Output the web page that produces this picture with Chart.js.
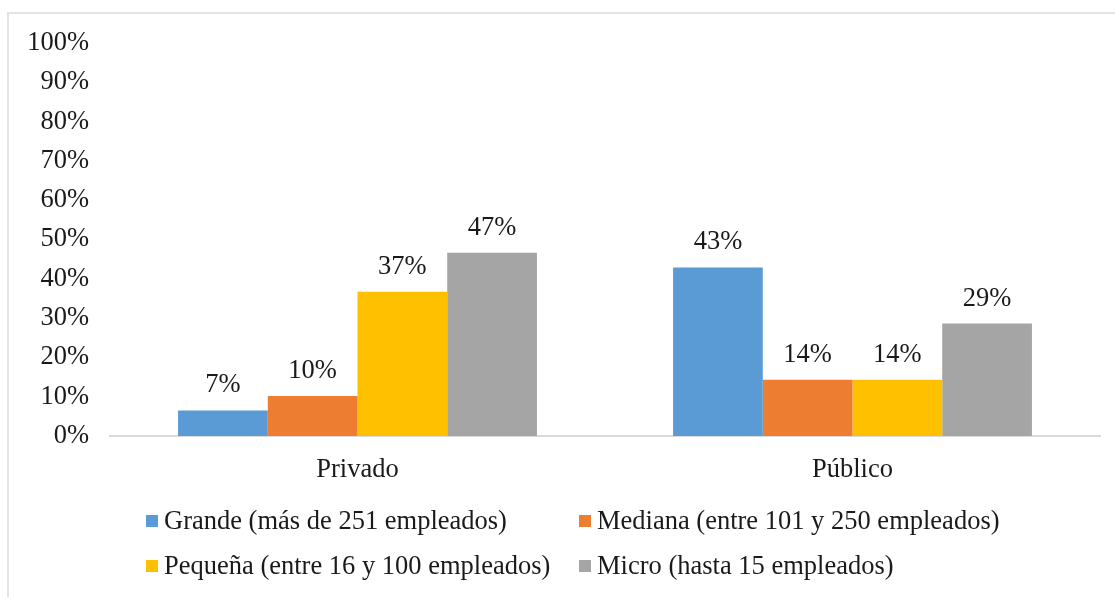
<!DOCTYPE html>
<html>
<head>
<meta charset="utf-8">
<script src="https://cdn.jsdelivr.net/npm/chart.js@4/dist/chart.umd.min.js"></script>
<style>
    html, body { margin: 0; padding: 0; background: #fff; overflow: hidden; }
    #wrap { position: absolute; left: 0; top: 0; width: 1115px; height: 597px; }
    #frame { position: absolute; left: 7px; top: 12px; width: 1130px; height: 610px;
             border: 2px solid #e3e3e3; box-sizing: border-box; pointer-events: none; }
</style>
</head>
<body>
<div id="wrap"><canvas id="sizeChart"></canvas></div>
<div id="frame"></div>
<script>
const categories = ['Privado', 'Público'];
const seriesNames = [
    'Grande (más de 251 empleados)',
    'Mediana (entre 101 y 250 empleados)',
    'Pequeña (entre 16 y 100 empleados)',
    'Micro (hasta 15 empleados)'
];
const grande = [6.5, 42.9];
const mediana = [10.2, 14.3];
const pequena = [36.7, 14.3];
const micro = [46.6, 28.6];
const colors = ['#5B9BD5', '#ED7D31', '#FFC000', '#A5A5A5'];

const FONT = '"Liberation Serif", "Times New Roman", serif';
const FONT_SIZE = 26.5;
const TEXT = '#1a1a1a';

// value labels above bars
const barLabels = {
    id: 'barLabels',
    afterDatasetsDraw(chart) {
        const ctx = chart.ctx;
        ctx.save();
        ctx.font = FONT_SIZE + 'px ' + FONT;
        ctx.fillStyle = TEXT;
        ctx.textAlign = 'center';
        ctx.textBaseline = 'alphabetic';
        chart.data.datasets.forEach((ds, i) => {
            chart.getDatasetMeta(i).data.forEach((bar, j) => {
                ctx.fillText(Math.round(ds.data[j]) + '%', bar.x, bar.y - 18);
            });
        });
        ctx.restore();
    }
};

// Excel-style legend: two rows, columns aligned left
const gridLegend = {
    id: 'gridLegend',
    afterDraw(chart) {
        const ctx = chart.ctx;
        const cols = [146, 579];
        const rows = [521, 566];
        ctx.save();
        ctx.font = FONT_SIZE + 'px ' + FONT;
        ctx.textBaseline = 'middle';
        ctx.textAlign = 'left';
        chart.data.datasets.forEach((ds, i) => {
            const x = cols[i % 2];
            const y = rows[Math.floor(i / 2)];
            ctx.fillStyle = ds.backgroundColor;
            ctx.fillRect(x, y - 6, 12, 12);
            ctx.fillStyle = TEXT;
            ctx.fillText(ds.label, x + 18, y + 1);
        });
        ctx.restore();
    }
};

const datasets = [grande, mediana, pequena, micro].map((vals, i) => ({
    label: seriesNames[i],
    data: vals,
    backgroundColor: colors[i],
    borderWidth: 0,
    categoryPercentage: 0.725,
    barPercentage: 1.0
}));

new Chart(document.getElementById('sizeChart').getContext('2d'), {
    type: 'bar',
    data: { labels: categories, datasets: datasets },
    options: {
        responsive: true,
        maintainAspectRatio: false,
        animation: false,
        layout: { padding: { left: 0, right: 15, top: 43, bottom: 100 } },
        plugins: {
            legend: { display: false },
            tooltip: { enabled: false }
        },
        scales: {
            x: {
                grid: { display: false, drawTicks: false },
                border: { display: true, color: '#d9d9d9', width: 2 },
                ticks: { color: TEXT, font: { family: FONT, size: FONT_SIZE }, padding: 18 },
                afterFit: s => { s.height = 61; }
            },
            y: {
                min: 0,
                max: 100,
                grid: { display: false, drawTicks: false },
                border: { display: false },
                ticks: {
                    stepSize: 10,
                    color: TEXT,
                    font: { family: FONT, size: FONT_SIZE },
                    padding: 21,
                    callback: v => v + '%'
                },
                afterFit: s => { s.width = 110; }
            }
        }
    },
    plugins: [barLabels, gridLegend]
});
</script>
</body>
</html>
